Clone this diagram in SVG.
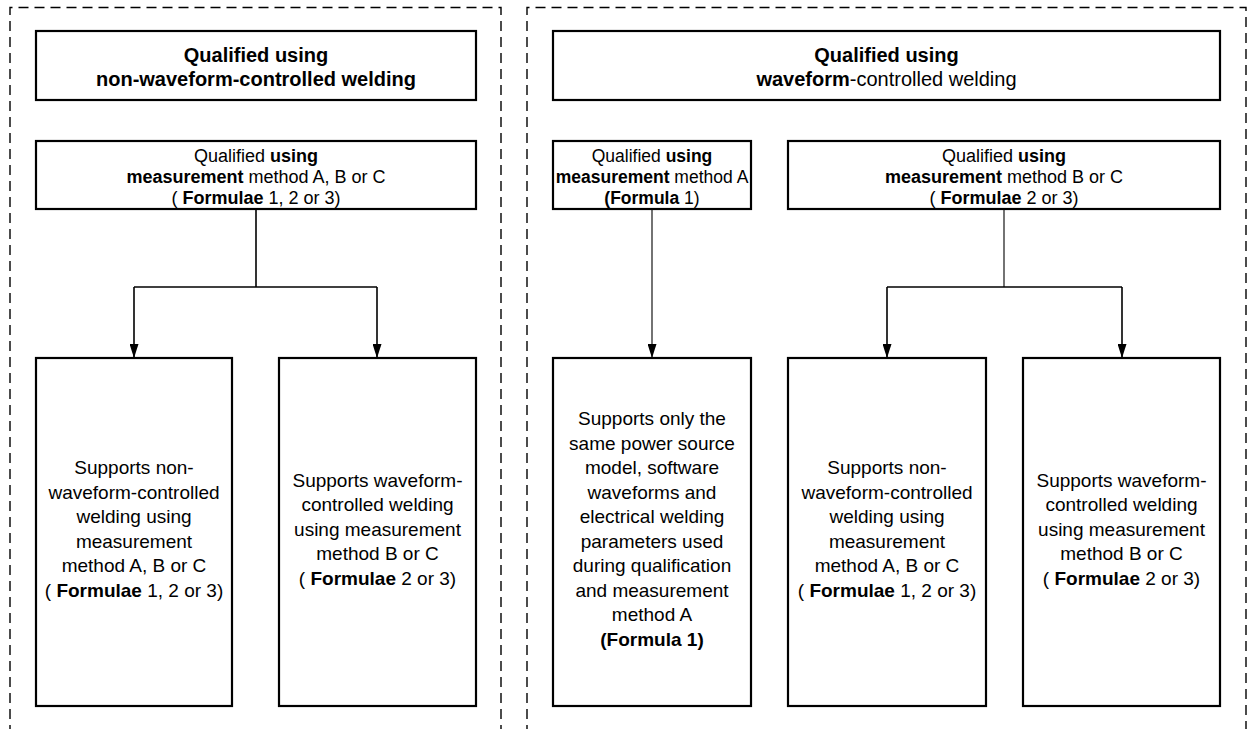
<svg xmlns="http://www.w3.org/2000/svg" width="1248" height="729" viewBox="0 0 1248 729">
<style>
  text { font-family: "Liberation Sans", Arial, sans-serif; fill: #000; text-anchor: middle; }
  .t { font-size: 20px; font-weight: bold; }
  .m { font-size: 18px; }
  .ma { font-size: 17.5px; }
  .s { font-size: 19px; }
  .b { font-weight: bold; }
  .n { font-weight: normal; }
  .box { fill: #fff; stroke: #000; stroke-width: 2.2; }
  .dash { fill: none; stroke: #000; stroke-width: 1.4; stroke-dasharray: 10 6; }
  .con { fill: none; stroke: #000; stroke-width: 1.6; }
  .thin { fill: none; stroke: #000; stroke-width: 1.1; }
</style>
<defs>
  <marker id="arrd" markerWidth="15" markerHeight="9" refX="14" refY="4.5" orient="auto" markerUnits="userSpaceOnUse" viewBox="0 0 15 9">
    <path d="M0,0 L14,4.5 L0,9 Z" fill="#000"/>
  </marker>
</defs>
<rect width="1248" height="729" fill="#fff"/>

<g id="frames">
  <path class="dash" d="M10,735 V7.5 H501 V735"/>
  <path class="dash" d="M527,735 V7.5 H1246 V735"/>
</g>

<g id="connectors">
  <path class="con" d="M256,209 V287"/>
  <path class="con" d="M134,287 H377"/>
  <path class="con" d="M134,287 V358" marker-end="url(#arrd)"/>
  <path class="con" d="M377,287 V358" marker-end="url(#arrd)"/>
  <path class="thin" d="M652,209 V358" marker-end="url(#arrd)"/>
  <path class="thin" d="M1004,209 V287"/>
  <path class="con" d="M887,287 H1122"/>
  <path class="con" d="M887,287 V358" marker-end="url(#arrd)"/>
  <path class="con" d="M1122,287 V358" marker-end="url(#arrd)"/>
</g>

<g id="left-title">
  <rect class="box" x="36" y="31" width="440" height="69"/>
  <text class="t" x="256" y="62">Qualified using</text>
  <text class="t" x="256" y="86">non-waveform-controlled welding</text>
</g>

<g id="left-qual">
  <rect class="box" x="36" y="141" width="440" height="68"/>
  <text class="m" x="256" y="162">Qualified <tspan class="b">using</tspan></text>
  <text class="m" x="256" y="183"><tspan class="b">measurement</tspan> method A, B or C</text>
  <text class="m" x="256" y="204">( <tspan class="b">Formulae</tspan> 1, 2 or 3)</text>
</g>

<g id="left-out1">
  <rect class="box" x="36" y="358" width="196" height="348"/>
  <text class="s" x="134" y="474">Supports non-</text>
  <text class="s" x="134" y="499">waveform-controlled</text>
  <text class="s" x="134" y="523">welding using</text>
  <text class="s" x="134" y="548">measurement</text>
  <text class="s" x="134" y="572">method A, B or C</text>
  <text class="s" x="134" y="597">(  <tspan class="b">Formulae</tspan> 1, 2 or 3)</text>
</g>

<g id="left-out2">
  <rect class="box" x="279" y="358" width="197" height="348"/>
  <text class="s" x="377.5" y="486.5">Supports waveform-</text>
  <text class="s" x="377.5" y="511">controlled welding</text>
  <text class="s" x="377.5" y="535.5">using measurement</text>
  <text class="s" x="377.5" y="560">method B or C</text>
  <text class="s" x="377.5" y="584.5">( <tspan class="b">Formulae</tspan> 2 or 3)</text>
</g>

<g id="right-title">
  <rect class="box" x="553" y="31" width="667" height="69"/>
  <text class="t" x="886.5" y="62">Qualified using</text>
  <text class="t" x="886.5" y="86">waveform<tspan class="n">-controlled welding</tspan></text>
</g>

<g id="right-qualA">
  <rect class="box" x="553" y="141" width="198" height="68"/>
  <text class="ma" x="652" y="162">Qualified <tspan class="b">using</tspan></text>
  <text class="ma" x="652" y="183"><tspan class="b">measurement</tspan> method A</text>
  <text class="ma" x="652" y="204"><tspan class="b">(Formula</tspan> 1)</text>
</g>

<g id="right-qualBC">
  <rect class="box" x="788" y="141" width="432" height="68"/>
  <text class="m" x="1004" y="162">Qualified <tspan class="b">using</tspan></text>
  <text class="m" x="1004" y="183"><tspan class="b">measurement</tspan> method B or C</text>
  <text class="m" x="1004" y="204">( <tspan class="b">Formulae</tspan> 2 or 3)</text>
</g>

<g id="right-out1">
  <rect class="box" x="553" y="358" width="198" height="348"/>
  <text class="s" x="652" y="425">Supports only the</text>
  <text class="s" x="652" y="450">same power source</text>
  <text class="s" x="652" y="474">model, software</text>
  <text class="s" x="652" y="499">waveforms and</text>
  <text class="s" x="652" y="523">electrical welding</text>
  <text class="s" x="652" y="548">parameters used</text>
  <text class="s" x="652" y="572">during qualification</text>
  <text class="s" x="652" y="597">and measurement</text>
  <text class="s" x="652" y="621">method A</text>
  <text class="s b" x="652" y="646">(Formula 1)</text>
</g>

<g id="right-out2">
  <rect class="box" x="788" y="358" width="198" height="348"/>
  <text class="s" x="887" y="474">Supports non-</text>
  <text class="s" x="887" y="499">waveform-controlled</text>
  <text class="s" x="887" y="523">welding using</text>
  <text class="s" x="887" y="548">measurement</text>
  <text class="s" x="887" y="572">method A, B or C</text>
  <text class="s" x="887" y="597">( <tspan class="b">Formulae</tspan> 1, 2 or 3)</text>
</g>

<g id="right-out3">
  <rect class="box" x="1023" y="358" width="197" height="348"/>
  <text class="s" x="1121.5" y="486.5">Supports waveform-</text>
  <text class="s" x="1121.5" y="511">controlled welding</text>
  <text class="s" x="1121.5" y="535.5">using measurement</text>
  <text class="s" x="1121.5" y="560">method B or C</text>
  <text class="s" x="1121.5" y="584.5">( <tspan class="b">Formulae</tspan> 2 or 3)</text>
</g>
</svg>
